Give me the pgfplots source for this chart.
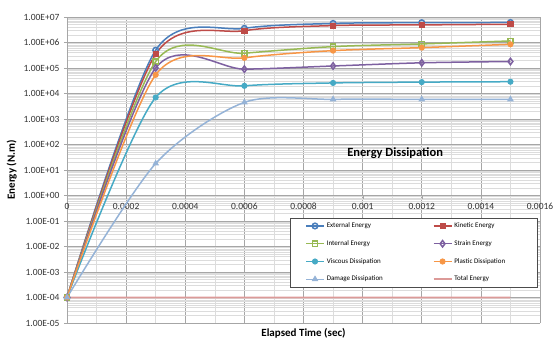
\documentclass[border=0pt]{standalone}
\usepackage{pgfplots}
\pgfplotsset{compat=1.18}
\usepackage{fontspec}
\setmainfont{Carlito}
\definecolor{cExt}{HTML}{4A7EBB}
\definecolor{cKin}{HTML}{BE4B48}
\definecolor{cInt}{HTML}{98B954}
\definecolor{cStr}{HTML}{7D60A0}
\definecolor{cVis}{HTML}{46AAC5}
\definecolor{cPla}{HTML}{F79646}
\definecolor{cDam}{HTML}{95B3D7}
\definecolor{cTot}{HTML}{DC9A98}
\definecolor{gmaj}{HTML}{A6A6A6}
\definecolor{gmin}{HTML}{DCDCDC}
\begin{document}
\begin{tikzpicture}
\begin{axis}[
  scale only axis,
  width=473pt, height=306pt,
  ymode=log,
  xmin=0, xmax=0.0016,
  ymin=1e-5, ymax=1e7,
  axis x line=middle,
  axis y line=left,
  hide obscured x ticks=false,
  hide obscured y ticks=false,
  axis line style={-, gmaj, line width=0.8pt},
  xtick={0,0.0002,0.0004,0.0006,0.0008,0.001,0.0012,0.0014,0.0016},
  xticklabels={0,0.0002,0.0004,0.0006,0.0008,0.001,0.0012,0.0014,0.0016},
  minor x tick num=1,
  ytick={1e-5,1e-4,1e-3,1e-2,1e-1,1e0,1e1,1e2,1e3,1e4,1e5,1e6,1e7},
  yticklabels={1.00E-05,1.00E-04,1.00E-03,1.00E-02,1.00E-01,1.00E+00,1.00E+01,1.00E+02,1.00E+03,1.00E+04,1.00E+05,1.00E+06,1.00E+07},
  grid=both,
  major grid style={gmaj, line width=0.6pt},
  minor grid style={gmin, line width=0.5pt},
  major tick length=3pt, minor tick length=0pt,
  tick style={gmaj},
  tick align=outside,
  ticklabel style={font=\fontsize{9.5}{11}\selectfont, text=black!80},
  xticklabel style={anchor=north, yshift=-1pt},
  yticklabel style={xshift=-1pt},
  xlabel={\bfseries Elapsed Time (sec)},
  xlabel style={at={(rel axis cs:0.5,0)}, anchor=north, yshift=-2pt, font=\fontsize{11}{13}\selectfont},
  ylabel={\bfseries Energy (N.m)},
  ylabel style={at={(ticklabel cs:0.5)}, anchor=near ticklabel, font=\fontsize{11}{13}\selectfont},
  every axis plot/.append style={line width=1.5pt, smooth, tension=0.48},
  mark options={solid, line width=0.9pt},
  legend columns=2,
  legend cell align=left,
  legend style={at={(0.4715,0.343)}, anchor=north west, font=\fontsize{7}{8}\selectfont,
    draw=black!70, line width=0.5pt, fill=white, inner xsep=15pt, inner ysep=2.5pt,
    row sep=7.4pt},
  legend image code/.code={\draw[mark repeat=2,mark phase=2,#1] plot coordinates {(0pt,0pt) (9pt,0pt) (18pt,0pt)};},
]
\addplot[color=cExt, mark=o, mark size=2.8pt, mark options={fill=white}] coordinates {(0,1e-4) (0.0003,5.0e5) (0.0006,3.6e6) (0.0009,5.6e6) (0.0012,6.0e6) (0.0015,6.1e6)};
\addlegendentry{\makebox[104pt][l]{External Energy}}
\addplot[color=cKin, mark=square*, mark size=2.6pt] coordinates {(0,1e-4) (0.0003,3.5e5) (0.0006,2.9e6) (0.0009,4.6e6) (0.0012,4.9e6) (0.0015,5.2e6)};
\addlegendentry{\makebox[66pt][l]{Kinetic Energy}}
\addplot[color=cInt, mark=square, mark size=2.6pt, mark options={fill=white}] coordinates {(0,1e-4) (0.0003,1.8e5) (0.0006,3.8e5) (0.0009,6.9e5) (0.0012,8.8e5) (0.0015,1.15e6)};
\addlegendentry{Internal Energy}
\addplot[color=cStr, mark=diamond, mark size=3.2pt, mark options={fill=white}] coordinates {(0,1e-4) (0.0003,1.0e5) (0.0006,9.0e4) (0.0009,1.2e5) (0.0012,1.6e5) (0.0015,1.8e5)};
\addlegendentry{Strain Energy}
\addplot[color=cVis, mark=*, mark size=2.6pt] coordinates {(0,1e-4) (0.0003,7.0e3) (0.0006,2.0e4) (0.0009,2.6e4) (0.0012,2.8e4) (0.0015,2.9e4)};
\addlegendentry{Viscous Dissipation}
\addplot[color=cPla, mark=*, mark size=2.6pt] coordinates {(0,1e-4) (0.0003,5.4e4) (0.0006,2.5e5) (0.0009,4.8e5) (0.0012,6.3e5) (0.0015,8.5e5)};
\addlegendentry{Plastic Dissipation}
\addplot[color=cDam, mark=triangle*, mark size=3pt] coordinates {(0,1e-4) (0.0003,18) (0.0006,4.5e3) (0.0009,5.9e3) (0.0012,5.9e3) (0.0015,5.9e3)};
\addlegendentry{Damage Dissipation}
\addplot[color=cTot, line width=1.6pt, mark=none, sharp plot] coordinates {(0,1e-4) (0.0005,1.0001e-4) (0.001,1e-4) (0.0015,1e-4)};
\addlegendentry{Total Energy}
\node[font=\fontsize{12.5}{14}\selectfont\bfseries] at (axis cs:0.00111,47) {Energy Dissipation};
\end{axis}
\pgfresetboundingbox
\path[use as bounding box] (-67pt,-15pt) rectangle (486pt,323pt);
\end{tikzpicture}
\end{document}
